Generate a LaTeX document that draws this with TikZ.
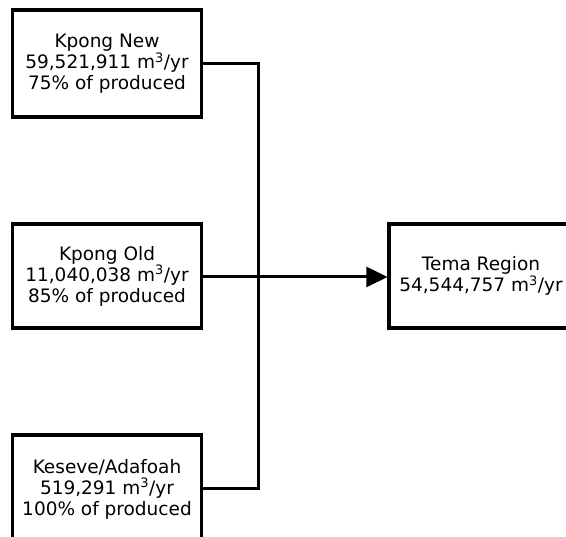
\documentclass[tikz,border=0pt]{standalone}
\usepackage{fontspec}
\setmainfont{DejaVu Sans}
\usetikzlibrary{arrows.meta}
\begin{document}
\begin{tikzpicture}[x=1pt,y=-1pt,
  box/.style={draw, line width=3.2pt, minimum width=189pt, align=center,
    font=\fontsize{18.5}{21}\selectfont, inner sep=0pt},
  conn/.style={line width=3pt}]
\useasboundingbox (0,0) rectangle (566,537);
\clip (0,0) rectangle (566,537);
\node[box, minimum height=107pt] (kn) at (107,63.5) {Kpong New\\59,521,911 m\textsuperscript{3}/yr\\75\% of produced};
\node[box, minimum height=104pt] (ko) at (107,276) {Kpong Old\\11,040,038 m\textsuperscript{3}/yr\\85\% of produced};
\node[box, minimum height=108pt] (ke) at (107,489) {Keseve/Adafoah\\519,291 m\textsuperscript{3}/yr\\100\% of produced};
\node[box, minimum width=184pt, minimum height=104pt] (tr) at (481,276) {Tema Region\\54,544,757 m\textsuperscript{3}/yr};
\coordinate (j) at (258,277);
\draw[conn] (kn.east) -| (j);
\draw[conn] (ke.east) -| (j);
\draw[conn,-{Triangle[length=21pt,width=20pt]}] (ko.east |- j) -- (tr.west |- j);
\end{tikzpicture}
\end{document}
